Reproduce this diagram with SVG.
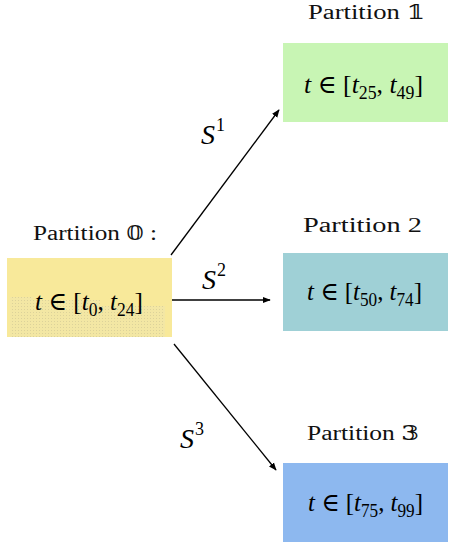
<svg xmlns="http://www.w3.org/2000/svg" width="456" height="544" viewBox="0 0 456 544">
<style>
.lbl{font-family:"Liberation Serif","DejaVu Serif",serif;font-size:20px;fill:#111}
.math{font-family:"Liberation Serif","DejaVu Serif",serif;font-style:italic;font-size:26px;fill:#000}
.sub{font-size:18px;font-style:normal}
.up{font-style:normal}
.s{font-family:"Liberation Serif","DejaVu Serif",serif;font-style:italic;font-size:28px;fill:#000}
.sup{font-size:18px;font-style:normal}
.edge{stroke:#000;stroke-width:1.3;fill:none}
</style>
<defs>
<marker id="ah" viewBox="0 0 10 10" refX="9" refY="5" markerWidth="8" markerHeight="8" markerUnits="userSpaceOnUse" orient="auto">
<path d="M0,1 L10,5 L0,9 Z" fill="#000"/>
</marker>
<pattern id="dots" width="3" height="3" patternUnits="userSpaceOnUse">
<rect width="3" height="3" fill="#f3e7a4"/>
<rect width="1" height="1" fill="#dcd29a"/>
</pattern>
</defs>
<rect width="456" height="544" fill="#fff"/>
<g id="p0">
<text class="lbl" x="33" y="240" textLength="124" lengthAdjust="spacingAndGlyphs">Partition 𝟘 :</text>
<rect x="7" y="258" width="165" height="79" fill="#f8e99a"/>
<polygon points="10,297 33,297 33,300 100,300 100,306 165,306 165,337 10,337" fill="url(#dots)"/>
<text class="math" x="35" y="310" textLength="108" lengthAdjust="spacingAndGlyphs">t <tspan class="up">∈ [</tspan>t<tspan class="sub" dy="6">0</tspan><tspan dy="-6" class="up">, </tspan>t<tspan class="sub" dy="6">24</tspan><tspan dy="-6" class="up">]</tspan></text>
</g>
<g id="p1">
<text class="lbl" x="308" y="19" textLength="117" lengthAdjust="spacingAndGlyphs">Partition 𝟙</text>
<rect x="283" y="43" width="165" height="79" fill="#c8f5b4"/>
<text class="math" x="304" y="93" textLength="119" lengthAdjust="spacingAndGlyphs">t <tspan class="up">∈ [</tspan>t<tspan class="sub" dy="6">25</tspan><tspan dy="-6" class="up">, </tspan>t<tspan class="sub" dy="6">49</tspan><tspan dy="-6" class="up">]</tspan></text>
</g>
<g id="p2">
<text class="lbl" x="303" y="232" textLength="119" lengthAdjust="spacingAndGlyphs">Partition 2</text>
<rect x="283" y="253" width="165" height="78" fill="#9fd0d6"/>
<text class="math" x="307" y="300" textLength="115" lengthAdjust="spacingAndGlyphs">t <tspan class="up">∈ [</tspan>t<tspan class="sub" dy="6">50</tspan><tspan dy="-6" class="up">, </tspan>t<tspan class="sub" dy="6">74</tspan><tspan dy="-6" class="up">]</tspan></text>
</g>
<g id="p3">
<text class="lbl" x="307" y="440" textLength="112" lengthAdjust="spacingAndGlyphs">Partition 𝟛</text>
<rect x="283" y="463" width="165" height="79" fill="#8db8ef"/>
<text class="math" x="308" y="511" textLength="115" lengthAdjust="spacingAndGlyphs">t <tspan class="up">∈ [</tspan>t<tspan class="sub" dy="6">75</tspan><tspan dy="-6" class="up">, </tspan>t<tspan class="sub" dy="6">99</tspan><tspan dy="-6" class="up">]</tspan></text>
</g>
<g id="connectors">
<line class="edge" x1="171" y1="255" x2="279" y2="110" marker-end="url(#ah)"/>
<line class="edge" x1="172" y1="300" x2="270" y2="300" marker-end="url(#ah)"/>
<line class="edge" x1="174" y1="344" x2="276" y2="470" marker-end="url(#ah)"/>
<text class="s" x="201" y="144">S<tspan class="sup" dx="1" dy="-13">1</tspan></text>
<text class="s" x="202" y="289">S<tspan class="sup" dx="1" dy="-13">2</tspan></text>
<text class="s" x="180" y="448">S<tspan class="sup" dx="1" dy="-13">3</tspan></text>
</g>
</svg>
